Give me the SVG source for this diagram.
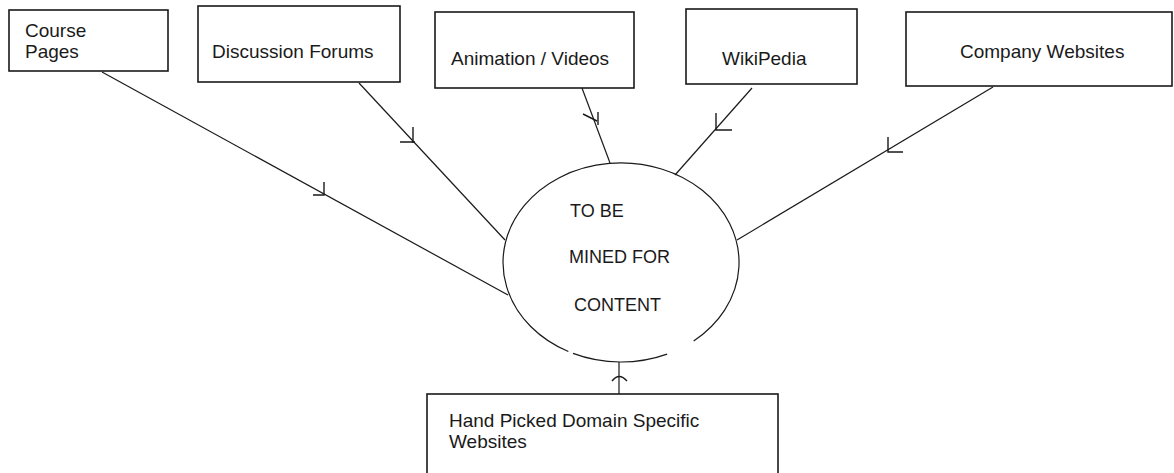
<svg xmlns="http://www.w3.org/2000/svg" width="1174" height="473" viewBox="0 0 1174 473">
  <style>
    .box { fill: #ffffff; stroke: #1a1a1a; stroke-width: 1.6; }
    .lbl { font-family: "Liberation Sans", Arial, sans-serif; font-size: 19px; fill: #1a1a1a; }
    .hub { font-size: 18px; }
    .edge { fill: none; stroke: #1a1a1a; stroke-width: 1.2; }
    .tick { fill: none; stroke: #1a1a1a; stroke-width: 1.4; }
  </style>
  <rect width="1174" height="473" fill="#ffffff"/>

  <g id="connectors">
    <!-- Course Pages -> hub -->
    <line class="edge" x1="102" y1="72" x2="508" y2="295"/>
    <path class="tick" d="M324,182 V195 H313"/>
    <!-- Discussion Forums -> hub -->
    <line class="edge" x1="359" y1="83" x2="505" y2="240"/>
    <path class="tick" d="M413,127 V143 M400,142 H415"/>
    <!-- Animation / Videos -> hub -->
    <line class="edge" x1="582" y1="88" x2="610" y2="163"/>
    <path class="tick" d="M583,114 L597,121 M598,112 V125"/>
    <!-- WikiPedia -> hub -->
    <line class="edge" x1="752" y1="88" x2="675" y2="175"/>
    <path class="tick" d="M716,113 V130 H732"/>
    <!-- Company Websites -> hub -->
    <line class="edge" x1="993" y1="87" x2="737" y2="240"/>
    <path class="tick" d="M888,137 V152 H903"/>
    <!-- Hand Picked Domain Specific Websites -> hub -->
    <line class="edge" x1="619" y1="362" x2="619" y2="394"/>
    <path class="tick" d="M612,381 Q619,372 627,381"/>
  </g>

  <g id="hub">
    <path class="edge" d="M667.1,354.1 A118,99.5 0 0 1 573.0,353.4 M568.35,351.5 A118,99.5 0 1 1 693.65,340.9"/>
    <text class="lbl hub" x="570" y="217">TO BE</text>
    <text class="lbl hub" x="569" y="263">MINED FOR</text>
    <text class="lbl hub" x="574" y="311">CONTENT</text>
  </g>

  <g id="course-pages">
    <rect class="box" x="9" y="10" width="159" height="61"/>
    <text class="lbl" x="25" y="37">Course</text>
    <text class="lbl" x="25" y="58">Pages</text>
  </g>

  <g id="discussion-forums">
    <rect class="box" x="198" y="6" width="202" height="76"/>
    <text class="lbl" x="212" y="58">Discussion Forums</text>
  </g>

  <g id="animation-videos">
    <rect class="box" x="435" y="12" width="199" height="76"/>
    <text class="lbl" x="451" y="65">Animation / Videos</text>
  </g>

  <g id="wikipedia">
    <rect class="box" x="686" y="9" width="171" height="75"/>
    <text class="lbl" x="722" y="65">WikiPedia</text>
  </g>

  <g id="company-websites">
    <rect class="box" x="906" y="12" width="266" height="74"/>
    <text class="lbl" x="960" y="58">Company Websites</text>
  </g>

  <g id="hand-picked">
    <rect class="box" x="427" y="394" width="351" height="90"/>
    <text class="lbl" x="449" y="427">Hand Picked Domain Specific</text>
    <text class="lbl" x="449" y="448">Websites</text>
  </g>
</svg>
